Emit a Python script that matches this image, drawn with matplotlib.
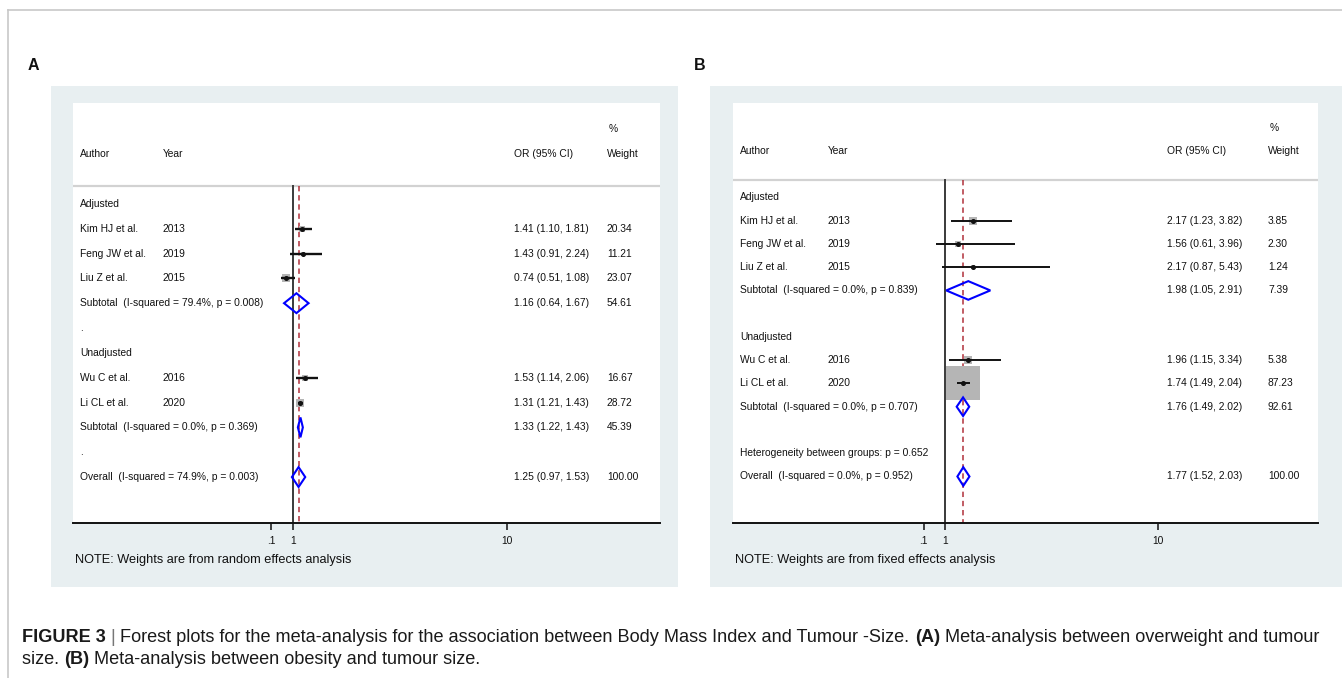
import matplotlib
matplotlib.use('Agg')
import matplotlib.pyplot as plt
from matplotlib.patches import Polygon, Rectangle
from matplotlib.lines import Line2D
from matplotlib import font_manager as fm
import numpy as np

# ---------------- data ----------------
# Panel A: overweight vs tumour size (random effects)
A_groups = ["Adjusted", "Unadjusted"]
A_authors = [["Kim HJ et al.", "Feng JW et al.", "Liu Z et al."],
             ["Wu C et al.", "Li CL et al."]]
A_years = [["2013", "2019", "2015"], ["2016", "2020"]]
A_or = [[1.41, 1.43, 0.74], [1.53, 1.31]]
A_lo = [[1.10, 0.91, 0.51], [1.14, 1.21]]
A_hi = [[1.81, 2.24, 1.08], [2.06, 1.43]]
A_w = [[20.34, 11.21, 23.07], [16.67, 28.72]]
A_sub_text = ["Subtotal  (I-squared = 79.4%, p = 0.008)",
              "Subtotal  (I-squared = 0.0%, p = 0.369)"]
A_sub_or = [1.16, 1.33]
A_sub_lo = [0.64, 1.22]
A_sub_hi = [1.67, 1.43]
A_sub_w = [54.61, 45.39]
A_overall_text = "Overall  (I-squared = 74.9%, p = 0.003)"
A_overall = [1.25, 0.97, 1.53, 100.00]
A_note = "NOTE: Weights are from random effects analysis"

# Panel B: obesity vs tumour size (fixed effects)
B_groups = ["Adjusted", "Unadjusted"]
B_authors = [["Kim HJ et al.", "Feng JW et al.", "Liu Z et al."],
             ["Wu C et al.", "Li CL et al."]]
B_years = [["2013", "2019", "2015"], ["2016", "2020"]]
B_or = [[2.17, 1.56, 2.17], [1.96, 1.74]]
B_lo = [[1.23, 0.61, 0.87], [1.15, 1.49]]
B_hi = [[3.82, 3.96, 5.43], [3.34, 2.04]]
B_w = [[3.85, 2.30, 1.24], [5.38, 87.23]]
B_sub_text = ["Subtotal  (I-squared = 0.0%, p = 0.839)",
              "Subtotal  (I-squared = 0.0%, p = 0.707)"]
B_sub_or = [1.98, 1.76]
B_sub_lo = [1.05, 1.49]
B_sub_hi = [2.91, 2.02]
B_sub_w = [7.39, 92.61]
B_het_text = "Heterogeneity between groups: p = 0.652"
B_overall_text = "Overall  (I-squared = 0.0%, p = 0.952)"
B_overall = [1.77, 1.52, 2.03, 100.00]
B_note = "NOTE: Weights are from fixed effects analysis"

x_ticks = [0.1, 1, 10]
x_ticklabels = [".1", "1", "10"]

caption_line1 = [("FIGURE 3", True, '#1a1a1a'), (" | ", False, '#777777'),
                 ("Forest plots for the meta-analysis for the association between Body Mass Index and Tumour -Size. ", False, '#1a1a1a'),
                 ("(A)", True, '#1a1a1a'),
                 (" Meta-analysis between overweight and tumour", False, '#1a1a1a')]
caption_line2 = [("size. ", False, '#1a1a1a'), ("(B)", True, '#1a1a1a'),
                 (" Meta-analysis between obesity and tumour size.", False, '#1a1a1a')]

# ---------------- style ----------------
plt.rcParams['font.family'] = ['Liberation Sans', 'DejaVu Sans']
try:
    fm.findfont(fm.FontProperties(family='Liberation Sans Narrow'), fallback_to_default=False)
    CAP_FAMILY = ['Liberation Sans Narrow', 'Liberation Sans']
except Exception:
    CAP_FAMILY = ['Liberation Sans', 'DejaVu Sans']

W, H = 1342, 678
fig = plt.figure(figsize=(W / 100, H / 100), dpi=100)
fig.patch.set_facecolor('white')
BG = '#e8eff1'
TXT = '#111111'
FS = 7.4


def fr(x, y, w, h):
    return [x / W, 1 - (y + h) / H, w / W, h / H]


# outer border
border = fig.add_axes([0, 0, 1, 1], facecolor='none')
border.set_xlim(0, W)
border.set_ylim(H, 0)
border.axis('off')
border.add_line(Line2D([8, W], [10, 10], color='#c8c8c8', lw=1.2))
border.add_line(Line2D([8, 8], [10, H], color='#c8c8c8', lw=1.2))
border.add_patch(Rectangle((51, 86), 627, 501, facecolor=BG, edgecolor='none'))
border.add_patch(Rectangle((710, 86), 632, 501, facecolor=BG, edgecolor='none'))


def draw_panel(rect, xlim, ylim, sep_row, cols, groups, authors, years, ors, los, his, ws,
               sub_text, sub_or, sub_lo, sub_hi, sub_w, spacer, het_text,
               overall_text, overall, box_k, ci_lw):
    ax = fig.add_axes(fr(*rect))
    ax.set_facecolor('white')
    ax.set_xlim(*xlim)
    ax.set_ylim(*ylim)
    for s in ['top', 'left', 'right']:
        ax.spines[s].set_visible(False)
    ax.spines['bottom'].set_linewidth(1.4)
    ax.spines['bottom'].set_color('#111111')
    ax.set_yticks([])
    ax.set_xticks(x_ticks)
    ax.set_xticklabels(x_ticklabels)
    ax.tick_params(axis='x', direction='out', length=5, width=1.1, labelsize=FS,
                   pad=4, colors='#111111')
    tr = ax.get_yaxis_transform()
    ca, cy, co, cw = cols

    def t(x, y, s):
        ax.text(x, y, s, transform=tr, fontsize=FS, color=TXT, va='center', ha='left')

    # header
    t(cw + 0.003, -1, "%")
    t(ca, 0, "Author")
    t(cy, 0, "Year")
    t(co, 0, "OR (95% CI)")
    t(cw, 0, "Weight")
    ax.axhline(sep_row, color='#d2d2d2', lw=1.6, zorder=1)
    ybot = ylim[0]
    ax.plot([1, 1], [sep_row, ybot], color='#3a3a3a', lw=1.4, zorder=2, clip_on=False)
    ax.plot([overall[0], overall[0]], [sep_row, ybot], color='#b0303a', lw=1.1,
            dashes=(3.5, 2.5), zorder=2.5)

    def diamond(y, est, lo, hi):
        h = 0.4
        ax.add_patch(Polygon([(lo, y), (est, y - h), (hi, y), (est, y + h)], closed=True,
                             facecolor='none', edgecolor='#0000ff', lw=1.5, zorder=5))

    r = 2
    for g in range(len(groups)):
        t(ca, r, groups[g])
        r += 1
        for i in range(len(authors[g])):
            t(ca, r, authors[g][i])
            t(cy, r, years[g][i])
            t(co, r, f"{ors[g][i]:.2f} ({los[g][i]:.2f}, {his[g][i]:.2f})")
            t(cw, r, f"{ws[g][i]:.2f}")
            side_px = box_k * np.sqrt(ws[g][i])
            ax.plot([ors[g][i]], [r], marker='s', markersize=side_px * 0.72,
                    color='#b5b5b5', markeredgewidth=0, zorder=3)
            ax.plot([los[g][i], his[g][i]], [r, r], color='#111111', lw=ci_lw,
                    solid_capstyle='butt', zorder=4)
            ax.plot([ors[g][i]], [r], marker='o', markersize=2.6, color='#111111', zorder=4)
            r += 1
        t(ca, r, sub_text[g])
        t(co, r, f"{sub_or[g]:.2f} ({sub_lo[g]:.2f}, {sub_hi[g]:.2f})")
        t(cw, r, f"{sub_w[g]:.2f}")
        diamond(r, sub_or[g], sub_lo[g], sub_hi[g])
        r += 1
        if spacer:
            t(ca, r, spacer)
        r += 1
    if het_text:
        t(ca, r, het_text)
        r += 1
    t(ca, r, overall_text)
    t(co, r, f"{overall[0]:.2f} ({overall[1]:.2f}, {overall[2]:.2f})")
    t(cw, r, f"{overall[3]:.2f}")
    diamond(r, overall[0], overall[1], overall[2])
    return ax


axA = draw_panel((73, 103, 587, 420), (-8.23, 16.44), (14.85, -2.06), 1.29,
                 (0.012, 0.153, 0.751, 0.9097),
                 A_groups, A_authors, A_years, A_or, A_lo, A_hi, A_w,
                 A_sub_text, A_sub_or, A_sub_lo, A_sub_hi, A_sub_w, ".", None,
                 A_overall_text, A_overall, 1.49, 1.7)
axB = draw_panel((733, 103, 585, 420), (-7.95, 16.74), (16.0, -2.06), 1.24,
                 (0.012, 0.162, 0.742, 0.9145),
                 B_groups, B_authors, B_years, B_or, B_lo, B_hi, B_w,
                 B_sub_text, B_sub_or, B_sub_lo, B_sub_hi, B_sub_w, "", B_het_text,
                 B_overall_text, B_overall, 3.64, 1.4)

fig.text(75 / W, 1 - 560 / H, A_note, fontsize=9.2, color=TXT, va='center', ha='left')
fig.text(735 / W, 1 - 560 / H, B_note, fontsize=9.2, color=TXT, va='center', ha='left')

fig.text(33 / W, 1 - 65 / H, "A", fontsize=11.5, fontweight='bold', family=CAP_FAMILY,
         color='#111111', va='center', ha='center')
fig.text(700 / W, 1 - 65 / H, "B", fontsize=11.5, fontweight='bold', family=CAP_FAMILY,
         color='#111111', va='center', ha='center')

# ---------------- caption ----------------
fig.canvas.draw()
renderer = fig.canvas.get_renderer()


def piece_width(txt, bold, size):
    tmp = fig.text(0, 0, "|" + txt + "|", fontsize=size, family=CAP_FAMILY,
                   fontweight='bold' if bold else 'normal')
    tmp2 = fig.text(0, 0, "||", fontsize=size, family=CAP_FAMILY,
                    fontweight='bold' if bold else 'normal')
    w = tmp.get_window_extent(renderer).width - tmp2.get_window_extent(renderer).width
    tmp.remove()
    tmp2.remove()
    return w


base = 10.0
tot = sum(piece_width(p[0], p[1], base) for p in caption_line1)
cap_size = base * 1300.0 / tot


def place_line(pieces, x0, yc):
    x = x0
    for txt, bold, color in pieces:
        fig.text(x / W, 1 - yc / H, txt, fontsize=cap_size, family=CAP_FAMILY,
                 fontweight='bold' if bold else 'normal', color=color, va='center', ha='left')
        x += piece_width(txt, bold, cap_size)


place_line(caption_line1, 22, 637)
place_line(caption_line2, 22, 660)

fig.savefig('out.png', dpi=100)
